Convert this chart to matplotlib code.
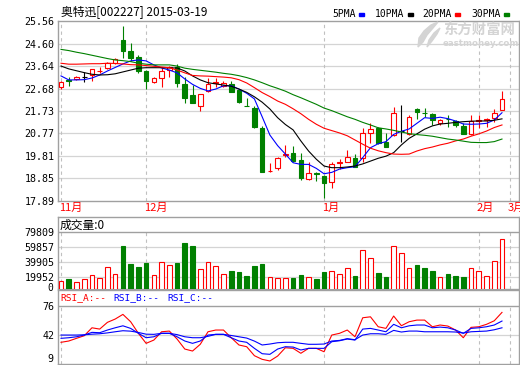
import numpy as np
import matplotlib
matplotlib.use('Agg')
import matplotlib.pyplot as plt
from matplotlib.patches import Rectangle, Polygon
from matplotlib.transforms import blended_transform_factory

plt.rcParams['font.family'] = ['Noto Sans CJK SC', 'DejaVu Sans']

# daily k-line, 58 trading days
opens = [22.73, 23.05, 23.08, 23.19, 23.26, 23.41, 23.54, 23.76, 24.75, 24.28,
         24.04, 23.44, 22.94, 23.14, 23.47, 23.61, 22.88, 22.41, 21.95, 22.58,
         22.92, 22.77, 22.86, 22.62, 21.95, 21.84, 20.99, 19.15, 19.31, 19.85,
         19.95, 19.64, 18.81, 19.08, 18.96, 18.69, 19.50, 19.57, 19.71, 19.71,
         20.80, 20.99, 20.42, 20.70, 20.89, 20.73, 21.81, 21.66, 21.58, 21.20,
         21.40, 21.30, 21.09, 20.73, 21.28, 21.36, 21.41, 21.77]
highs = [23.00, 23.18, 23.22, 23.37, 23.53, 23.61, 23.80, 24.00, 25.35, 24.64,
         24.11, 23.47, 23.16, 23.61, 23.66, 23.72, 23.19, 22.83, 22.47, 23.12,
         23.11, 23.00, 23.00, 22.65, 22.29, 21.95, 21.10, 19.50, 19.76, 20.28,
         20.23, 19.92, 19.54, 19.14, 18.99, 19.57, 19.68, 20.06, 19.88, 21.01,
         21.20, 21.05, 20.77, 21.91, 21.98, 21.55, 21.87, 21.84, 21.62, 21.40,
         21.55, 21.36, 21.20, 21.55, 21.55, 21.41, 21.81, 22.58]
lows = [22.66, 22.77, 23.05, 22.95, 23.00, 23.33, 23.52, 23.74, 23.97, 23.86,
        23.36, 22.65, 22.90, 22.73, 23.19, 22.76, 22.08, 22.08, 21.74, 22.53,
        22.73, 22.74, 22.52, 22.05, 21.93, 21.02, 19.11, 19.12, 19.21, 19.78,
        19.57, 18.79, 18.79, 18.76, 18.03, 18.43, 19.25, 19.55, 19.33, 19.57,
        20.35, 20.33, 20.18, 20.68, 20.42, 20.72, 21.38, 21.48, 21.13, 21.13,
        21.03, 21.06, 20.73, 20.72, 21.01, 21.06, 21.27, 21.75]
closes = [22.95, 23.00, 23.19, 23.19, 23.51, 23.43, 23.77, 23.93, 24.29, 24.00,
          23.45, 23.02, 23.14, 23.44, 23.58, 22.91, 22.27, 22.08, 22.45, 22.88,
          22.98, 22.92, 22.55, 22.10, 21.94, 21.06, 19.14, 19.17, 19.74, 19.91,
          19.61, 18.86, 19.07, 19.05, 18.67, 19.45, 19.57, 19.75, 19.35, 20.77,
          20.95, 20.35, 20.20, 21.63, 20.89, 21.48, 21.67, 21.63, 21.34, 21.34,
          21.37, 21.13, 20.75, 21.30, 21.34, 21.37, 21.63, 22.24]

# moving averages as shown on the chart
ma5 = [23.22, 23.05, 23.05, 23.06, 23.13, 23.26, 23.43, 23.58, 23.73, 23.86,
       23.90, 23.86, 23.69, 23.56, 23.47, 23.35, 23.09, 22.86, 22.69, 22.58,
       22.66, 22.80, 22.80, 22.66, 22.48, 22.24, 21.48, 20.70, 20.25, 19.89,
       19.52, 19.45, 19.45, 19.28, 19.05, 19.11, 19.25, 19.31, 19.35, 19.74,
       20.16, 20.33, 20.42, 20.73, 20.86, 20.96, 21.20, 21.44, 21.41, 21.46,
       21.40, 21.30, 21.17, 21.16, 21.17, 21.20, 21.34, 21.65]
ma10 = [23.64, 23.52, 23.44, 23.36, 23.29, 23.26, 23.27, 23.31, 23.39, 23.47,
        23.55, 23.57, 23.57, 23.57, 23.56, 23.56, 23.43, 23.22, 23.05, 22.93,
        22.88, 22.83, 22.78, 22.66, 22.52, 22.33, 22.10, 21.81, 21.44, 21.15,
        20.92, 20.45, 20.02, 19.67, 19.38, 19.31, 19.31, 19.34, 19.38, 19.47,
        19.59, 19.71, 19.80, 19.95, 20.28, 20.56, 20.75, 20.95, 21.09, 21.17,
        21.20, 21.24, 21.27, 21.29, 21.30, 21.30, 21.33, 21.39]
ma20 = [23.76, 23.72, 23.72, 23.73, 23.74, 23.74, 23.76, 23.75, 23.73, 23.70,
        23.69, 23.66, 23.63, 23.60, 23.57, 23.47, 23.35, 23.24, 23.22, 23.21,
        23.19, 23.17, 23.14, 23.06, 22.92, 22.72, 22.51, 22.34, 22.15, 22.01,
        21.82, 21.61, 21.37, 21.16, 20.99, 20.89, 20.79, 20.67, 20.49, 20.31,
        20.14, 20.03, 19.95, 19.89, 19.88, 19.89, 20.02, 20.12, 20.19, 20.28,
        20.35, 20.45, 20.53, 20.65, 20.75, 20.87, 21.02, 21.13]
ma30 = [24.35, 24.30, 24.23, 24.17, 24.10, 24.03, 23.96, 23.90, 23.87, 23.83,
        23.76, 23.72, 23.69, 23.69, 23.69, 23.64, 23.55, 23.50, 23.46, 23.42,
        23.38, 23.33, 23.29, 23.23, 23.15, 23.05, 22.93, 22.80, 22.69, 22.57,
        22.42, 22.29, 22.15, 22.01, 21.85, 21.74, 21.61, 21.48, 21.37, 21.24,
        21.13, 21.01, 20.96, 20.90, 20.83, 20.76, 20.72, 20.69, 20.65, 20.59,
        20.53, 20.49, 20.44, 20.39, 20.38, 20.38, 20.42, 20.53]

volumes = [14200, 16900, 12500, 16500, 21800, 17800, 32400, 23100, 60800, 36800,
           32400, 38200, 21800, 39900, 35100, 38200, 65700, 60800, 29800, 39100,
           33800, 23100, 27500, 26200, 20900, 34200, 36800, 19100, 17800, 17800,
           17800, 22200, 19100, 16500, 26200, 27100, 23100, 31100, 20900, 56400,
           45700, 24900, 19600, 60800, 51100, 31100, 35500, 31500, 27500, 19100,
           23500, 20900, 19600, 31100, 27100, 20500, 40400, 71000]

rsi_a = [34.1, 35.6, 38.7, 41.7, 50.9, 49.4, 57.2, 61.0, 66.4, 57.9,
         44.5, 32.9, 36.7, 46.3, 47.1, 37.9, 26.3, 24.0, 31.8, 46.3,
         48.3, 48.3, 39.4, 31.0, 29.0, 18.6, 14.4, 12.5, 18.2, 27.8,
         27.1, 21.4, 27.1, 27.1, 23.2, 42.5, 44.5, 48.3, 40.5, 62.5,
         63.6, 52.1, 50.2, 64.5, 53.3, 57.9, 59.8, 59.8, 52.1, 54.1,
         52.9, 48.3, 39.4, 51.4, 52.1, 54.9, 59.0, 68.7]
rsi_b = [38.7, 39.4, 40.5, 42.5, 45.6, 45.2, 48.3, 50.9, 53.2, 50.2,
         44.5, 39.4, 40.5, 44.5, 44.5, 40.5, 35.6, 32.9, 35.6, 42.5,
         43.3, 43.3, 39.4, 35.6, 34.1, 27.1, 20.9, 20.2, 26.3, 29.0,
         28.6, 25.2, 27.1, 27.1, 27.1, 34.8, 35.9, 37.9, 36.7, 49.4,
         50.2, 48.3, 46.3, 54.9, 50.9, 53.2, 54.1, 54.1, 50.9, 51.7,
         50.9, 48.3, 44.5, 50.2, 50.9, 52.1, 54.1, 58.7]
rsi_c = [42.5, 42.5, 42.5, 42.8, 43.5, 44.0, 45.0, 46.3, 47.5, 47.0,
         45.5, 43.5, 43.3, 44.5, 44.5, 43.0, 40.5, 39.4, 39.4, 41.0,
         43.3, 43.3, 42.0, 40.5, 39.0, 35.5, 31.0, 32.1, 33.6, 34.1,
         34.1, 32.9, 31.8, 31.8, 32.1, 35.6, 36.3, 38.3, 37.1, 42.5,
         44.0, 44.0, 43.3, 47.9, 46.0, 47.1, 47.1, 46.3, 46.3, 46.3,
         46.3, 46.0, 44.8, 46.3, 46.7, 47.1, 48.6, 50.9]

price_ticks = [17.89, 18.85, 19.81, 20.77, 21.73, 22.68, 23.64, 24.60, 25.56]
vol_ticks = [19952, 39905, 59857, 79809]
rsi_ticks = [42, 76]
month_labels = ['11月', '12月', '1月', '2月', '3月']
month_pos = [0, 11, 34, 54, 58]
ma_names = ['5PMA', '10PMA', '20PMA', '30PMA']

RED = '#ff0000'
GREEN = '#008000'
BLUE = '#0000ff'
BORDER = '#a0a0a0'
GRID = '#d4d4d4'
DASH = '#c0c0c0'
MONO = 'DejaVu Sans Mono'

W, H = 520, 365
fig = plt.figure(figsize=(W / 100, H / 100), dpi=100)
fig.patch.set_facecolor('white')


def box(l, t, r, b):
    return [l / W, 1 - b / H, (r - l) / W, (b - t) / H]


def fpos(x, y):
    return x / W, 1 - y / H


ax = fig.add_axes(box(58, 21, 519, 201))
axv = fig.add_axes(box(58, 216.7, 519, 289), sharex=ax)
axr = fig.add_axes(box(58, 289.5, 519, 364), sharex=ax)

for a in (ax, axv, axr):
    for s in a.spines.values():
        s.set_color(BORDER)
        s.set_linewidth(1.0)
    a.tick_params(axis='x', bottom=False, labelbottom=False)
    a.tick_params(axis='y', length=0, pad=2.5, labelsize=7.2)

x = np.arange(len(closes))
o, h, l, c = (np.array(v) for v in (opens, highs, lows, closes))
up = c > o
dn = c < o
eq = c == o
bw = 0.6

# main k-line panel
ax.set_xlim(-0.39, 59.2)
ax.set_ylim(price_ticks[0], price_ticks[-1])
for t in price_ticks[1:-1]:
    ax.axhline(t, color=GRID, lw=0.9, zorder=0)
for p in month_pos:
    ax.axvline(p, color=DASH, lw=0.8, ls=(0, (3, 3)), zorder=0)

ax.vlines(x[up], c[up], h[up], color=RED, lw=0.8, zorder=2)
ax.vlines(x[up], l[up], o[up], color=RED, lw=0.8, zorder=2)
ax.bar(x[up], c[up] - o[up], bottom=o[up], width=bw, facecolor='white',
       edgecolor=RED, lw=0.8, zorder=3)
ax.vlines(x[dn], l[dn], h[dn], color=GREEN, lw=0.8, zorder=2)
ax.bar(x[dn], c[dn] - o[dn], bottom=o[dn], width=bw, facecolor=GREEN,
       edgecolor=GREEN, lw=0.8, zorder=3)
ax.vlines(x[eq], l[eq], h[eq], color='black', lw=0.8, zorder=2)
ax.hlines(c[eq], x[eq] - bw / 2, x[eq] + bw / 2, color='black', lw=0.8, zorder=3)

ma_colors = [BLUE, 'black', RED, GREEN]
for ma, col in zip([ma5, ma10, ma20, ma30], ma_colors):
    ax.plot(x, ma, color=col, lw=0.8, zorder=4)

ax.set_yticks(price_ticks)
ax.set_yticklabels(['%.2f' % t for t in price_ticks], family=MONO)

# volume panel
vol = np.array(volumes)
vup = c >= o
axv.set_ylim(3600, 100250)
axv.bar(x[vup], vol[vup], width=bw, facecolor='white', edgecolor=RED, lw=0.8, zorder=3)
axv.bar(x[~vup], vol[~vup], width=bw, facecolor=GREEN, edgecolor=GREEN, lw=0.8, zorder=3)
for t in vol_ticks[:-1]:
    axv.axhline(t, color=GRID, lw=0.9, zorder=0)
axv.axhline(vol_ticks[-1], color=BORDER, lw=1.0, zorder=1)
axv.vlines(month_pos, 3600, vol_ticks[-1], color=DASH, lw=0.8, ls=(0, (3, 3)), zorder=0)
axv.set_yticks(vol_ticks)
axv.set_yticklabels([str(t) for t in vol_ticks], family=MONO)
axv.text(-0.01, -0.025, '0', transform=axv.transAxes, ha='right', va='baseline',
         family=MONO, fontsize=7)

# rsi panel
axr.set_ylim(9, 95.2)
axr.axhline(rsi_ticks[0], color=GRID, lw=0.9, zorder=0)
axr.axhline(rsi_ticks[1], color=BORDER, lw=1.0, zorder=1)
axr.vlines(month_pos, 9, rsi_ticks[1], color=DASH, lw=0.8, ls=(0, (3, 3)), zorder=0)
axr.plot(x, rsi_a, color=RED, lw=0.8, zorder=3)
axr.plot(x, rsi_b, color=BLUE, lw=0.8, zorder=3)
axr.plot(x, rsi_c, color=BLUE, lw=0.8, zorder=3)
axr.set_yticks(rsi_ticks)
axr.set_yticklabels([str(t) for t in rsi_ticks], family=MONO)
axr.text(-0.01, 0.03, '9', transform=axr.transAxes, ha='right', va='baseline',
         family=MONO, fontsize=7.2)

# texts
fig.text(*fpos(61, 13), '奥特迅[002227] 2015-03-19', fontsize=8.5, va='center')
leg_x = [332, 375, 422, 471]
for name, col, lx in zip(ma_names, ma_colors, leg_x):
    fig.text(*fpos(lx, 14), name, family=MONO, fontsize=7, va='center')
    sx = lx + len(name) * 5.8 + 4
    fig.add_artist(Rectangle(fpos(sx, 15.5), 5 / W, 2.5 / H, color=col,
                             transform=fig.transFigure))

# watermark
wm = '#d4d4d4'
logo = [(438, 22), (431, 25), (424, 31), (419, 38), (418, 47),
        (423, 42), (427, 35), (433, 28)]
fig.add_artist(Polygon([fpos(*p) for p in logo], closed=True, color=wm,
                       transform=fig.transFigure))
logo2 = [(440, 28), (434, 33), (429, 40), (427, 47), (432, 41), (437, 34)]
fig.add_artist(Polygon([fpos(*p) for p in logo2], closed=True, color=wm,
                       transform=fig.transFigure))
fig.text(*fpos(443, 31), '东方财富网', fontsize=10.4, color=wm,
         weight='bold', va='center')
fig.text(*fpos(443, 43), 'eastmoney.com', family='DejaVu Sans', fontsize=6.2,
         color=wm, weight='bold', va='center')

tr = blended_transform_factory(ax.transData, fig.transFigure)
for lab, p in zip(month_labels, month_pos):
    ax.text(p - 0.25, 1 - 208 / H, lab, transform=tr, color=RED, fontsize=8,
            va='center', ha='left', clip_on=False)

fig.text(*fpos(60, 225), '成交量:0', fontsize=8.5, va='center')
for lab, col, lx in zip(['RSI_A:--', 'RSI_B:--', 'RSI_C:--'], [RED, BLUE, BLUE],
                        [60, 113, 167]):
    fig.text(*fpos(lx, 298), lab, family=MONO, fontsize=6.8, color=col, va='center')

fig.savefig('out.png', dpi=100)
